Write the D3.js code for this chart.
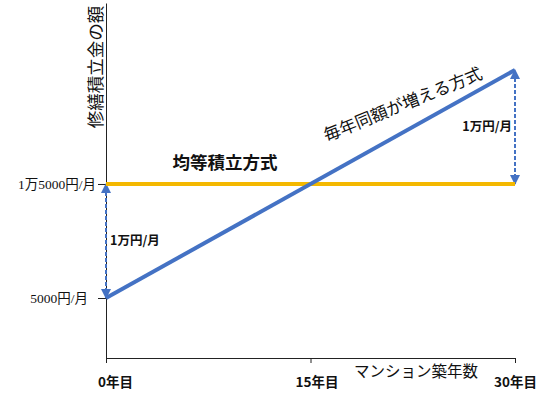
<!DOCTYPE html>
<html>
<head>
<meta charset="utf-8">
<script src="https://cdn.jsdelivr.net/npm/d3@7"></script>
<style>
  body { margin: 0; background: #fff; }
  text { font-family: "Noto Sans CJK JP", sans-serif; fill: #111; }
</style>
</head>
<body>
<svg id="chart" width="550" height="394"></svg>
<script>
const years = [0, 30];
const equalAmount = [15000, 15000];
const increasing = [5000, 25000];
const xTicks = [0, 15, 30];
const xTickLabels = ["0年目", "15年目", "30年目"];
const yTicks = [5000, 15000];
const yTickLabels = ["5000円/月", "1万5000円/月"];
const gapLabel = "1万円/月";

const svg = d3.select("#chart");

const x = d3.scaleLinear().domain([0, 30]).range([106, 515]);
const y = d3.scaleLinear().domain([-263, 30877]).range([358, 3]);

const blue = "#4472c4";
const gold = "#f4b800";

// axes
const yAxis = svg.append("g")
    .attr("transform", `translate(${x(0)},0)`)
    .call(d3.axisLeft(y).tickValues(yTicks).tickSize(8).tickSizeOuter(0)
        .tickPadding(2).tickFormat((d, i) => yTickLabels[i]));
yAxis.selectAll("text")
    .style("font-family", "'Liberation Serif', 'Noto Sans CJK JP', serif")
    .style("font-size", "13.5px")
    .attr("fill", "#111")
    .attr("dx", (d, i) => i === 0 ? -8 : 0);

const xAxis = svg.append("g")
    .attr("transform", `translate(0,${y(-263)})`)
    .call(d3.axisBottom(x).tickValues(xTicks).tickSize(5).tickSizeOuter(0)
        .tickPadding(14).tickFormat((d, i) => xTickLabels[i]));
xAxis.selectAll("text")
    .style("font-size", "13.5px")
    .style("font-weight", "bold")
    .attr("fill", "#222")
    .attr("dx", (d, i) => [9, 6, 0][i]);

svg.selectAll(".domain, .tick line").attr("stroke", "#222").attr("stroke-width", 1);

// axis titles
svg.append("text")
    .attr("transform", `translate(102,67) rotate(-90)`)
    .attr("text-anchor", "middle")
    .style("font-size", "17.5px")
    .text("修繕積立金の額");

svg.append("text")
    .attr("x", 416).attr("y", 377)
    .attr("text-anchor", "middle")
    .style("font-size", "15.5px")
    .text("マンション築年数");

// arrow markers
const defs = svg.append("defs");
defs.append("marker")
    .attr("id", "arrow")
    .attr("viewBox", "0 0 10 10")
    .attr("refX", 9).attr("refY", 5)
    .attr("markerWidth", 5).attr("markerHeight", 5)
    .attr("orient", "auto-start-reverse")
    .append("path")
    .attr("d", "M0,0L10,5L0,10z")
    .attr("fill", blue);

// dashed gap arrows
const gaps = [
    { year: years[0], from: increasing[0], to: equalAmount[0] },
    { year: years[1], from: equalAmount[1], to: increasing[1] }
];
svg.selectAll(".gap")
    .data(gaps)
    .enter()
    .append("line")
    .attr("class", "gap")
    .attr("x1", d => x(d.year)).attr("x2", d => x(d.year))
    .attr("y1", d => y(d.from)).attr("y2", d => y(d.to))
    .attr("stroke", blue)
    .attr("stroke-width", 2)
    .attr("stroke-dasharray", "4,2")
    .attr("marker-start", "url(#arrow)")
    .attr("marker-end", "url(#arrow)");

// lines
const line = d3.line().x((d, i) => x(years[i])).y(d => y(d));

svg.append("path")
    .datum(equalAmount)
    .attr("fill", "none")
    .attr("stroke", gold)
    .attr("stroke-width", 4)
    .attr("d", line);

svg.append("path")
    .datum(increasing)
    .attr("fill", "none")
    .attr("stroke", blue)
    .attr("stroke-width", 4)
    .attr("d", line);

// gap labels
svg.selectAll(".gapLabel")
    .data(gaps)
    .enter()
    .append("text")
    .attr("class", "gapLabel")
    .attr("x", (d, i) => i === 0 ? x(d.year) + 4 : x(d.year) - 3)
    .attr("y", d => y((d.from + d.to) / 2) + 4)
    .attr("text-anchor", (d, i) => i === 0 ? "start" : "end")
    .style("font-size", "12.5px")
    .style("font-weight", "bold")
    .text(gapLabel);

// series labels
svg.append("text")
    .attr("x", 225).attr("y", 169)
    .attr("text-anchor", "middle")
    .style("font-size", "17.5px")
    .style("font-weight", "bold")
    .text("均等積立方式");

svg.append("text")
    .attr("transform", "translate(405,110) rotate(-22)")
    .attr("text-anchor", "middle")
    .style("font-size", "17px")
    .text("毎年同額が増える方式");
</script>
</body>
</html>
